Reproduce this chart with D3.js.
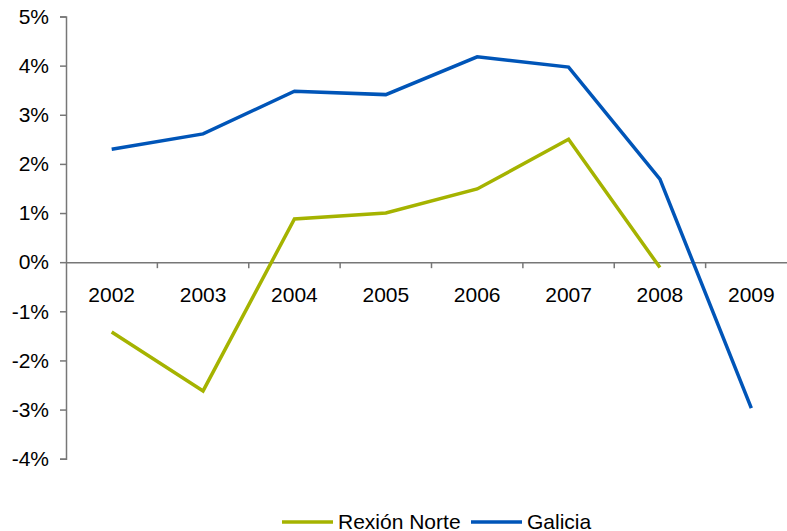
<!DOCTYPE html>
<html>
<head>
<meta charset="utf-8">
<script src="https://cdn.jsdelivr.net/npm/d3@7"></script>
<style>
body { margin:0; background:#fff; }
text { font-family: "Liberation Sans", Arial, sans-serif; fill:#000; }
</style>
</head>
<body>
<svg id="chart"></svg>
<script>
// data
var years = ["2002","2003","2004","2005","2006","2007","2008","2009"];
var norteValues = [-1.42, -2.62, 0.88, 1.0, 1.49, 2.5, -0.11, null];
var galiciaValues = [2.3, 2.61, 3.48, 3.41, 4.18, 3.97, 1.69, -2.97];
var yTicks = [5,4,3,2,1,0,-1,-2,-3,-4];
var seriesNames = ["Rexión Norte","Galicia"];
var seriesColors = ["#a5b300","#0055b8"];

var screen = {width:787, height:531};

var svg = d3.select("#chart")
    .attr("width",screen.width)
    .attr("height",screen.height);

// x: category bands, last one runs past the right edge like the original
var xScale = d3.scaleBand()
    .domain(years)
    .range([66,797]);

var yScale = d3.scaleLinear()
    .domain([-4,5])
    .range([458.7,16.5]);

// y axis
var yAxis = d3.axisLeft(yScale)
    .tickValues(yTicks)
    .tickSize(6)
    .tickFormat(function(d){ return d+"%"; });

var yg = svg.append("g")
    .attr("transform","translate(66,0)")
    .call(yAxis);
yg.select(".domain").attr("stroke","#777").attr("stroke-width",1.5);
yg.selectAll(".tick line").attr("stroke","#777").attr("stroke-width",1.5);
yg.selectAll(".tick text")
    .attr("x",-17)
    .attr("font-size","21px")
    .style("font-family","Liberation Sans, Arial, sans-serif");

// x axis at zero
var xAxis = d3.axisBottom(xScale)
    .tickSize(0)
    .tickPadding(0);

var xg = svg.append("g")
    .attr("transform","translate(0,"+yScale(0)+")")
    .call(xAxis);
xg.select(".domain").attr("stroke","#777").attr("stroke-width",1.5);
xg.selectAll(".tick text")
    .attr("y",40)
    .attr("dy",0)
    .attr("font-size","21px")
    .style("font-family","Liberation Sans, Arial, sans-serif");

// tick marks between categories
xg.selectAll(".sep")
    .data(years.slice(1))
    .enter()
    .append("line")
    .attr("x1",function(d){ return xScale(d); })
    .attr("x2",function(d){ return xScale(d); })
    .attr("y1",0)
    .attr("y2",6)
    .attr("stroke","#777")
    .attr("stroke-width",1.5);

// lines
var allSeries = [norteValues, galiciaValues];
var line = d3.line()
    .defined(function(d){ return d != null; })
    .x(function(d,i){ return xScale(years[i]) + xScale.bandwidth()/2; })
    .y(function(d){ return yScale(d); });

svg.selectAll(".series")
    .data(allSeries)
    .enter()
    .append("path")
    .attr("class","series")
    .attr("fill","none")
    .attr("stroke",function(d,i){ return seriesColors[i]; })
    .attr("stroke-width",3.5)
    .attr("stroke-linejoin","miter")
    .attr("d",line);

// legend
var legendX = [282,471];
var legend = svg.append("g");
seriesNames.forEach(function(name,i)
{
    legend.append("line")
        .attr("x1",legendX[i])
        .attr("x2",legendX[i]+51)
        .attr("y1",522)
        .attr("y2",522)
        .attr("stroke",seriesColors[i])
        .attr("stroke-width",3.5);
    legend.append("text")
        .attr("x",legendX[i]+56)
        .attr("y",529)
        .attr("font-size","21px")
        .text(name);
});
</script>
</body>
</html>
